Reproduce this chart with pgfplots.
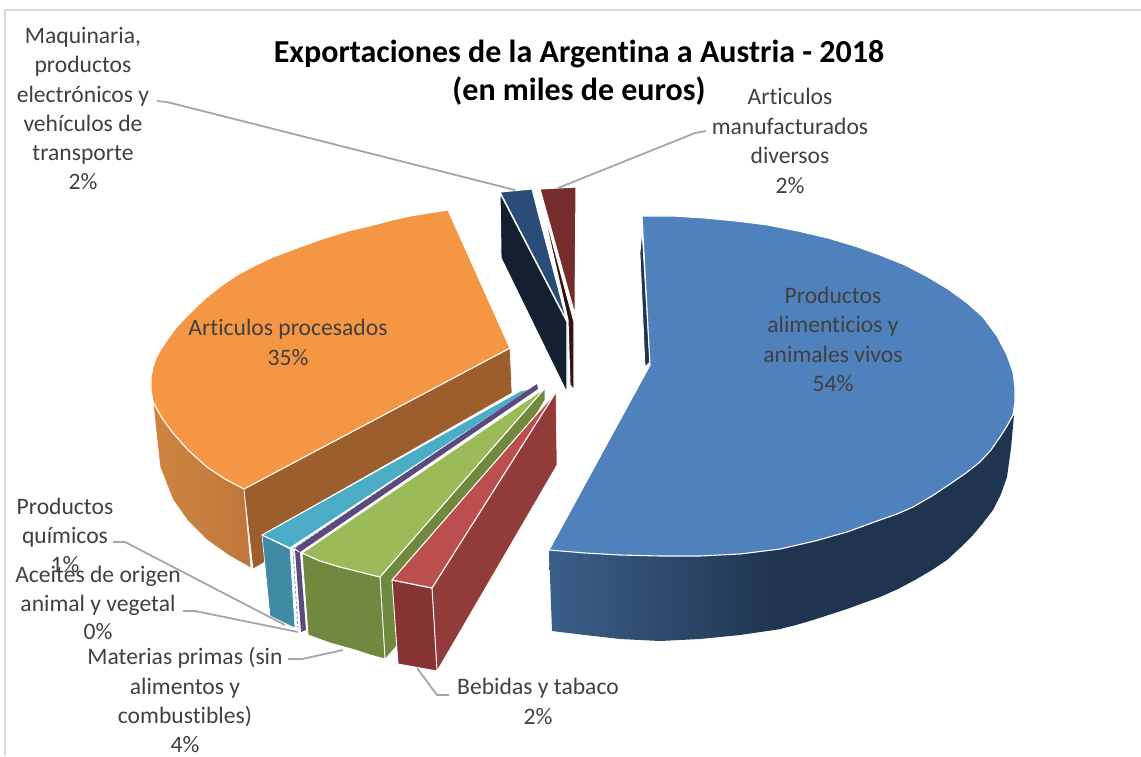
\documentclass[border=0pt]{standalone}
\usepackage{fontspec}
\setmainfont[Ligatures=NoCommon]{Carlito}
\usepackage{xcolor}
\usepackage{pgfplots}
\pgfplotsset{compat=1.18}
\definecolor{txt}{HTML}{404040}
\definecolor{lead}{HTML}{A6A6A6}
\definecolor{chartframe}{HTML}{D9D9D9}
\definecolor{bluetop}{HTML}{4F81BD}
\definecolor{bluea}{HTML}{3A5F8A}
\definecolor{blueb}{HTML}{1F344E}
\definecolor{oran}{HTML}{F59644}
\definecolor{orana}{HTML}{CF8540}
\definecolor{oranb}{HTML}{C0763A}
\definecolor{brown}{HTML}{9B5E2C}
\definecolor{teal1}{HTML}{4BACC6}
\definecolor{teal2}{HTML}{3F8AA5}
\definecolor{purp}{HTML}{5C4A7E}
\definecolor{gre}{HTML}{9BBB59}
\definecolor{gre2}{HTML}{71893F}
\definecolor{redt}{HTML}{BC4F4D}
\definecolor{red2}{HTML}{923B3B}
\definecolor{red3}{HTML}{853333}
\definecolor{navy}{HTML}{2A4D78}
\definecolor{navyd}{HTML}{12202F}
\definecolor{maro}{HTML}{762C2B}
\definecolor{marod}{HTML}{341210}
\newcommand{\lab}[3]{\node[anchor=base,text=txt,font=\fontsize{23.6}{27}\selectfont,inner sep=0pt] at (axis cs:#1,#2) {#3};}
\begin{document}
\begin{tikzpicture}
\begin{axis}[
  scale only axis, width=1141pt, height=756pt,
  xmin=0, xmax=1141, ymin=0, ymax=756, y dir=reverse,
  hide axis, clip=true,
  every axis plot/.append style={line join=round},
  face/.style={draw=white, line width=1.1pt},
]
% keeps the page as large as the axis
\addplot[draw=none] coordinates {(0,0) (1141,756)};
% frame
\addplot[chartframe, line width=1.5pt] coordinates {(5,756) (5,10) (1141,10)};
% small wedges at the back
\addplot[fill=navyd, face] coordinates {(500,193) (567,322) (567,393) (501,258)} --cycle;
\addplot[fill=navy, face] coordinates {(500,192) (532,189) (540,220) (567,321)} --cycle;
\addplot[fill=marod, face] coordinates {(539,192) (568,320) (570,385) (574,390) (574,322)} --cycle;
\addplot[fill=maro, face] coordinates {(540,189) (576,187) (575,315)} --cycle;
% blue
\addplot[fill=blueb, draw=white, line width=0.8pt] coordinates {(642,230) (640,253) (645,367) (650,362)} --cycle;
\addplot[fill=blueb, draw=none] coordinates {(780,549) (815,541) (847,532) (880,520) (897,514) (913,507) (932,496) (950,484) (966,473) (980,462) (991,450) (1000,437) (1007,426) (1014,415) (1011,448) (1007,477) (1001,494) (993,510) (983,523) (973,535) (960,548) (947,560) (932,570) (915,580) (898,589) (880,597) (847,609) (813,620) (796,625) (780,629)} --cycle;
\addplot[left color=bluea, right color=blueb, draw=none] coordinates {(549,550) (552,631) (585,635) (620,639) (660,641) (700,639) (740,635) (781,629) (781,549) (740,554) (700,556) (660,556) (620,555) (585,553)} --cycle;
\addplot[fill=bluetop, face] coordinates {(642,216) (673,216) (705,218) (736,221) (768,225) (798,231) (828,238) (855,246) (880,255) (905,265) (928,277) (948,289) (966,302) (983,317) (997,336) (1007,355) (1013,372) (1015,388) (1015,402) (1013,415) (1007,426) (1000,437) (991,450) (980,462) (966,473) (950,484) (932,496) (913,507) (897,514) (880,520) (847,532) (815,541) (780,549) (740,554) (700,556) (660,556) (620,555) (585,553) (549,550) (650,365)} --cycle;
% orange
\addplot[left color=orana, right color=oranb, draw=white, line width=0.6pt] coordinates {(153,402) (160,467) (173,500) (188,521) (207,540) (228,555) (251,568) (244,489) (225,479) (207,467) (188,450) (173,433) (162,418)} --cycle;
\addplot[fill=brown, draw=white, line width=0.6pt] coordinates {(244,489) (510,348) (512,393) (263,535) (265,562) (253,569)} --cycle;
\addplot[fill=oran, face] coordinates {(448,210) (428,213) (410,216) (392,220) (373,225) (348,231) (322,239) (297,248) (273,257) (254,266) (237,275) (221,286) (207,297) (195,308) (185,318) (175,329) (167,340) (161,349) (156,358) (153,367) (151,377) (151,390) (153,402) (162,418) (173,433) (188,450) (207,467) (225,479) (244,489) (510,348)} --cycle;
% teal
\addplot[fill=teal2, draw=white, line width=0.6pt] coordinates {(262,535) (290,549) (295,628) (270,616)} --cycle;
\addplot[fill=teal1, face] coordinates {(262,535) (290,548) (533,388) (520,391)} --cycle;
\addplot[teal2, densely dashed, line width=0.6pt] coordinates {(293,551) (298,630)};
\addplot[teal1, densely dashed, line width=0.6pt] coordinates {(293,549) (535,386)};
% purple
\addplot[fill=purp, draw=none] coordinates {(295,550) (301,632) (306,630) (300,553)} --cycle;
\addplot[fill=purp, draw=none] coordinates {(295,548) (300,552) (538,389) (537,384)} --cycle;
% green
\addplot[fill=gre2, draw=white, line width=0.6pt] coordinates {(380,577) (545,388) (545,400) (395,648) (385,659)} --cycle;
\addplot[fill=gre2, draw=white, line width=0.9pt] coordinates {(302,553) (320,561) (340,567) (360,572) (380,577) (385,659) (370,655) (355,650) (330,643) (308,635)} --cycle;
\addplot[fill=gre, face] coordinates {(302,553) (320,561) (340,567) (360,572) (380,577) (545,388)} --cycle;
% red
\addplot[fill=red2, draw=white, line width=0.6pt] coordinates {(432,588) (556,392) (557,465) (437,671)} --cycle;
\addplot[fill=red3, draw=white, line width=0.9pt] coordinates {(392,580) (432,588) (437,671) (398,664)} --cycle;
\addplot[fill=redt, face] coordinates {(392,580) (432,588) (556,392)} --cycle;
% leader lines
\addplot[lead, line width=1.8pt] coordinates {(157,101) (167,102) (515,190)};
\addplot[lead, line width=1.8pt] coordinates {(706,131) (695,133) (558,188)};
\addplot[lead, line width=1.8pt] coordinates {(113,542) (125,542) (285,625)};
\addplot[lead, line width=1.8pt] coordinates {(183,611) (195,611) (298,632)};
\addplot[lead, line width=1.8pt] coordinates {(288,659) (302,659) (343,650)};
\addplot[lead, line width=1.8pt] coordinates {(417,668) (437,695) (449,695)};
% title
\node[anchor=base,font=\fontsize{32}{36}\selectfont\bfseries,text=black,inner sep=0pt] at (axis cs:579,62) {Exportaciones de la Argentina a Austria - 2018};
\node[anchor=base,font=\fontsize{32}{36}\selectfont\bfseries,text=black,inner sep=0pt] at (axis cs:579,100) {(en miles de euros)};
% labels
\lab{83}{43}{Maquinaria,}
\lab{83}{72}{productos}
\lab{83}{102}{electrónicos y}
\lab{83}{131}{vehículos de}
\lab{83}{160}{transporte}
\lab{83}{189}{2\%}
\lab{790}{104}{Articulos}
\lab{790}{134}{manufacturados}
\lab{790}{163}{diversos}
\lab{790}{193}{2\%}
\lab{833}{303}{Productos}
\lab{833}{332}{alimenticios y}
\lab{833}{362}{animales vivos}
\lab{833}{391}{54\%}
\lab{288}{335}{Articulos procesados}
\lab{288}{365}{35\%}
\lab{65}{514}{Productos}
\lab{65}{543}{químicos}
\lab{65}{572}{1\%}
\lab{98}{582}{Aceites de origen}
\lab{98}{611}{animal y vegetal}
\lab{98}{639}{0\%}
\lab{185}{664}{Materias primas (sin}
\lab{185}{694}{alimentos y}
\lab{185}{723}{combustibles)}
\lab{185}{752}{4\%}
\lab{538}{694}{Bebidas y tabaco}
\lab{538}{724}{2\%}
\end{axis}
\end{tikzpicture}
\end{document}
